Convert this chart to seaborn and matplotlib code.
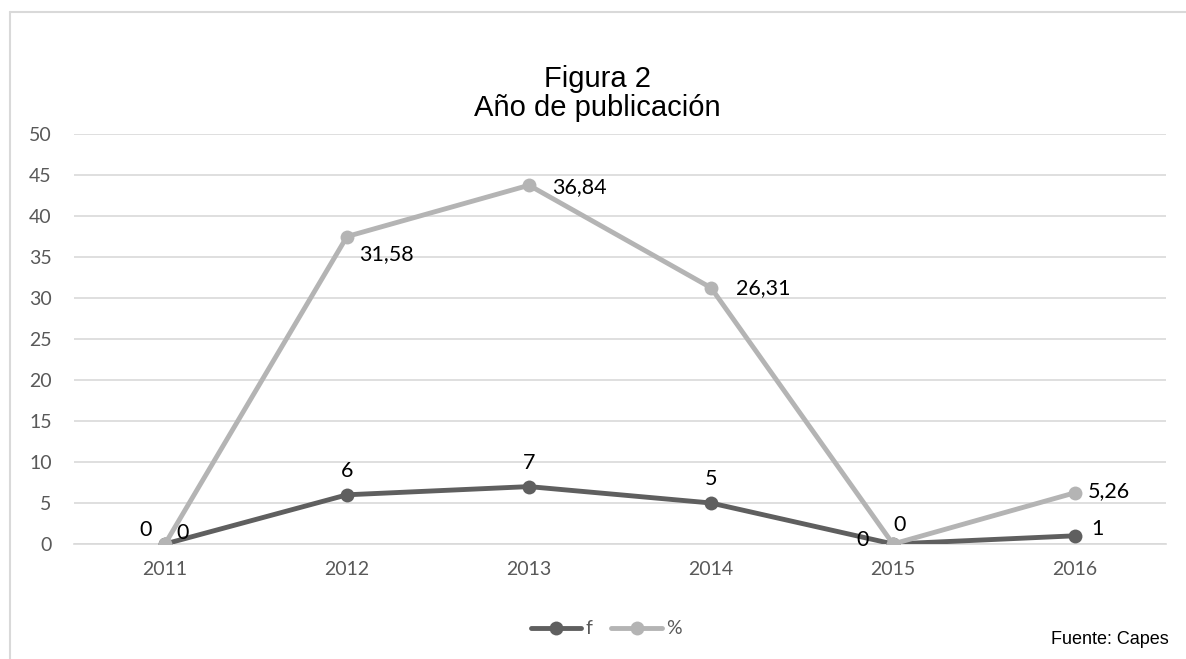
import matplotlib
matplotlib.use("Agg")
import matplotlib.pyplot as plt
import seaborn as sns
import pandas as pd
from matplotlib.lines import Line2D

years = ["2011", "2012", "2013", "2014", "2015", "2016"]
f_values = [0, 6, 7, 5, 0, 1]
pct_plotted = [0, 37.5, 43.75, 31.25, 0, 6.25]
f_labels = ["0", "6", "7", "5", "0", "1"]
pct_labels = ["0", "31,58", "36,84", "26,31", "0", "5,26"]

sns.set_theme(style="white")
plt.rcParams['font.family'] = ['Lato', 'DejaVu Sans']

dark = "#5f5f5f"
light = "#b4b4b4"
tick_col = "#595959"

fig = plt.figure(figsize=(11.86, 6.59), dpi=100)
ax = fig.add_axes([74/1186, 1-544/659, 1092/1186, 410/659])

xs = list(range(len(years)))
df = pd.DataFrame({"x": xs * 2,
                   "y": f_values + pct_plotted,
                   "serie": ["f"] * len(xs) + ["%"] * len(xs)})

sns.lineplot(data=df, x="x", y="y", hue="serie", palette={"f": dark, "%": light},
             hue_order=["f", "%"], marker="o", markersize=10, markeredgewidth=0,
             linewidth=3.5, ax=ax, legend=False, zorder=3)
for ln in ax.lines:
    if ln.get_color() == light:
        ln.set_zorder(4)

ax.set_xlim(-0.5, 5.5)
ax.set_ylim(0, 50)
ax.set_yticks(range(0, 51, 5))
ax.set_xticks(xs)
ax.set_xticklabels(years)
ax.set_xlabel("")
ax.set_ylabel("")
ax.yaxis.grid(True, color="#d9d9d9", linewidth=1.2)
ax.set_axisbelow(True)
for s in ["top", "right", "left"]:
    ax.spines[s].set_visible(False)
ax.spines["bottom"].set_color("#d9d9d9")
ax.spines["bottom"].set_linewidth(1.2)
ax.tick_params(axis="both", length=0, labelsize=14, colors=tick_col)
ax.tick_params(axis="x", pad=12)
ax.tick_params(axis="y", pad=16)

lbl_kw = dict(textcoords="offset points", fontsize=15.5, color="black", zorder=5)
f_off = [(-14, 10, "center"), (0, 17, "center"), (0, 17, "center"),
         (0, 17, "center"), (-22, 3, "center"), (12, 5, "left")]
for i, (xo, yo, ha) in enumerate(f_off):
    ax.annotate(f_labels[i], (xs[i], f_values[i]), xytext=(xo, yo), ha=ha, va="center", **lbl_kw)
pct_off = [(13, 8, "center"), (9, -13, "left"), (16.5, -1.5, "left"),
           (18, 0, "left"), (5, 14, "center"), (9, 1, "left")]
for i, (xo, yo, ha) in enumerate(pct_off):
    ax.annotate(pct_labels[i], (xs[i], pct_plotted[i]), xytext=(xo, yo), ha=ha, va="center", **lbl_kw)

fig.text(597/1186, 1-79/659, "Figura 2", ha="center", va="center", fontsize=21,
         family=["Liberation Sans", "DejaVu Sans"], color="black")
fig.text(597/1186, 1-108/659, "Año de publicación", ha="center", va="center", fontsize=21,
         family=["Liberation Sans", "DejaVu Sans"], color="black")
fig.text(1169/1186, 1-640/659, "Fuente: Capes", ha="right", va="center", fontsize=13,
         family=["Liberation Sans", "DejaVu Sans"], color="black")

handles = [Line2D([], [], color=dark, lw=3.5, marker="o", markersize=10, markeredgewidth=0),
           Line2D([], [], color=light, lw=3.5, marker="o", markersize=10, markeredgewidth=0)]
leg = fig.legend(handles, ["f", "%"], loc="center", bbox_to_anchor=(606/1186, 1-629/659),
                 ncol=2, frameon=False, fontsize=14, handlelength=2.6, handletextpad=0.2,
                 columnspacing=1.0)
for t in leg.get_texts():
    t.set_color(tick_col)

fig.add_artist(Line2D([10/1186, 10/1186], [0, 1-12/659], color="#d9d9d9", lw=1.5))
fig.add_artist(Line2D([10/1186, 1], [1-12/659, 1-12/659], color="#d9d9d9", lw=1.5))

fig.savefig("out.png", dpi=100)
